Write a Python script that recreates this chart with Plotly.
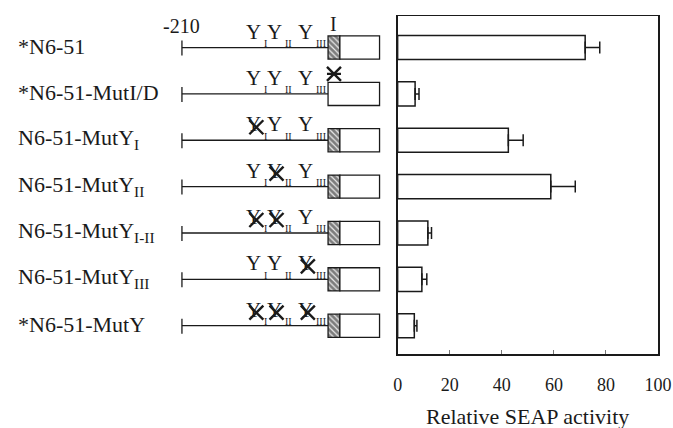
import plotly.graph_objects as go

# ---------------- data ----------------
constructs = ["*N6-51", "*N6-51-MutI/D", "N6-51-MutY<sub>I</sub>", "N6-51-MutY<sub>II</sub>",
              "N6-51-MutY<sub>I-II</sub>", "N6-51-MutY<sub>III</sub>", "*N6-51-MutY"]
activity = [72.0, 6.7, 42.5, 58.8, 11.6, 9.3, 6.4]
activity_err = [5.6, 1.5, 5.7, 9.4, 1.4, 1.9, 1.0]
x_ticks = [0, 20, 40, 60, 80, 100]

promoter_start = -210
site_names = ["I", "II", "III"]
site_pos = [-93, -64, -19]
mutated_sites = [[], [], [0], [1], [0, 1], [2], [0, 1, 2]]
i_element = [0, 17]
reporter = [17, 74]
i_deleted = [False, True, False, False, False, False, False]

rows = list(range(len(constructs)))

# ---------------- layout constants ----------------
REF_W = 673            # reference frame width (px positions below are measured in it)
W, H = 686, 428        # page is captured slightly wider and scaled to 673
FONT = "Liberation Serif"
INK = "#1a1a1a"
y_dom = [1 - 354 / H, 1 - 16 / H]
y_rng = [6.61, -0.68]
x_dom = [396 / REF_W, 658 / REF_W]
diag_dom = [0, 0.585]
DIAG_LEFT_FRAC = 179 / REF_W
DIAG_FRAC_PER_UNIT = 0.7 / REF_W
d0 = promoter_start - DIAG_LEFT_FRAC / DIAG_FRAC_PER_UNIT
d1 = promoter_start + (diag_dom[1] - DIAG_LEFT_FRAC) / DIAG_FRAC_PER_UNIT

fig = go.Figure()

# right panel bars
fig.add_trace(go.Bar(
    orientation="h", y=rows, x=activity, width=0.52,
    marker=dict(color="white", line=dict(color=INK, width=1.5)),
    error_x=dict(type="data", array=activity_err, arrayminus=[0] * len(rows),
                 symmetric=False, color=INK, thickness=1.5, width=6),
    xaxis="x", yaxis="y", showlegend=False, hoverinfo="skip"))

# diagram: hatched I element
h_rows = [r for r in rows if not i_deleted[r]]
fig.add_trace(go.Bar(
    orientation="h", y=h_rows, x=[i_element[1] - i_element[0]] * len(h_rows),
    base=[i_element[0]] * len(h_rows), width=0.5,
    marker=dict(color="white", line=dict(color=INK, width=1.3),
                pattern=dict(shape="\\", size=4, solidity=0.7, fgcolor="#111111", bgcolor="#e8e8e8")),
    xaxis="x2", yaxis="y2", showlegend=False, hoverinfo="skip"))

# diagram: reporter boxes
rep_base = [reporter[0] if not i_deleted[r] else i_element[0] for r in rows]
rep_len = [reporter[1] - b for b in rep_base]
fig.add_trace(go.Bar(
    orientation="h", y=rows, x=rep_len, base=rep_base, width=0.5,
    marker=dict(color="white", line=dict(color=INK, width=1.3)),
    xaxis="x2", yaxis="y2", showlegend=False, hoverinfo="skip"))

shapes = []
annotations = []
for r in rows:
    # promoter line
    shapes.append(dict(type="line", xref="x2", yref="y2", x0=promoter_start, x1=i_element[0],
                       y0=r, y1=r, line=dict(color=INK, width=1.3)))
    # start tick
    shapes.append(dict(type="line", xref="x2", yref="y2", x0=promoter_start, x1=promoter_start,
                       ysizemode="pixel", yanchor=r, y0=-8, y1=7, line=dict(color=INK, width=1.3)))
    # row label
    annotations.append(dict(text=constructs[r], xref="paper", yref="y2", x=12 / REF_W, y=r,
                            xanchor="left", yanchor="middle", yshift=1, showarrow=False,
                            font=dict(family=FONT, size=22, color=INK)))
    # Y sites
    for k, pos in enumerate(site_pos):
        annotations.append(dict(text="Y", xref="x2", yref="y2", x=pos, y=r, xanchor="right",
                                yanchor="middle", xshift=-1, yshift=16, showarrow=False, borderpad=0,
                                font=dict(family=FONT, size=21, color=INK)))
        annotations.append(dict(text=site_names[k], xref="x2", yref="y2", x=pos, y=r, xanchor="left",
                                yanchor="middle", yshift=4, showarrow=False, borderpad=0,
                                font=dict(family=FONT, size=10, color=INK)))
    # crosses for mutated sites
    for k in mutated_sites[r]:
        for (a0, b0, a1, b1) in [(-14, 6, 0, 20), (-14, 20, 0, 6)]:
            shapes.append(dict(type="line", xref="x2", yref="y2", xsizemode="pixel", ysizemode="pixel",
                               xanchor=site_pos[k], yanchor=r, x0=a0, y0=b0, x1=a1, y1=b1,
                               line=dict(color=INK, width=2.4)))
    # I element mark
    if i_deleted[r]:
        for (a0, b0, a1, b1) in [(-7, 13, 7, 27), (-7, 27, 7, 13), (-7, 20, 7, 20)]:
            shapes.append(dict(type="line", xref="x2", yref="y2", xsizemode="pixel", ysizemode="pixel",
                               xanchor=sum(i_element) / 2, yanchor=r, x0=a0, y0=b0, x1=a1, y1=b1,
                               line=dict(color=INK, width=2.4)))

annotations.append(dict(text="-210", xref="x2", yref="y2", x=promoter_start, y=0, yanchor="middle",
                        yshift=22, showarrow=False, font=dict(family=FONT, size=20, color=INK)))
annotations.append(dict(text="I", xref="x2", yref="y2", x=sum(i_element) / 2, y=0, yanchor="middle",
                        yshift=24, showarrow=False, font=dict(family=FONT, size=20, color=INK)))
annotations.append(dict(text="Relative SEAP activity", xref="paper", yref="paper",
                        x=(x_dom[0] + x_dom[1]) / 2, y=1 - 416 / H, xanchor="center", yanchor="middle",
                        showarrow=False, font=dict(family=FONT, size=22, color=INK)))

fig.update_layout(
    width=W, height=H, margin=dict(l=0, r=0, t=0, b=0),
    paper_bgcolor="white", plot_bgcolor="white", barmode="overlay", showlegend=False,
    xaxis=dict(domain=x_dom, range=[0, 100], tickvals=x_ticks, ticks="inside", ticklen=4,
               tickcolor="#777", showline=True, mirror=True, linecolor=INK, linewidth=1.5,
               showgrid=False, zeroline=False, ticklabelstandoff=14,
               tickfont=dict(family=FONT, size=18, color=INK), anchor="y"),
    yaxis=dict(domain=y_dom, range=y_rng, showline=True, mirror=True, linecolor=INK, linewidth=1.5,
               showticklabels=False, ticks="", showgrid=False, zeroline=False, anchor="x"),
    xaxis2=dict(domain=diag_dom, range=[d0, d1], visible=False, anchor="y2"),
    yaxis2=dict(domain=y_dom, range=y_rng, visible=False, anchor="x2"),
    shapes=shapes, annotations=annotations,
)

fig.write_html(
    "out.html",
    config={"displayModeBar": False, "staticPlot": True},
    post_script=("document.documentElement.style.margin='0px';document.body.style.margin='0px';"
                 "document.body.style.padding='0px';document.documentElement.style.overflow='hidden';"
                 "document.body.style.overflow='hidden';"),
)
